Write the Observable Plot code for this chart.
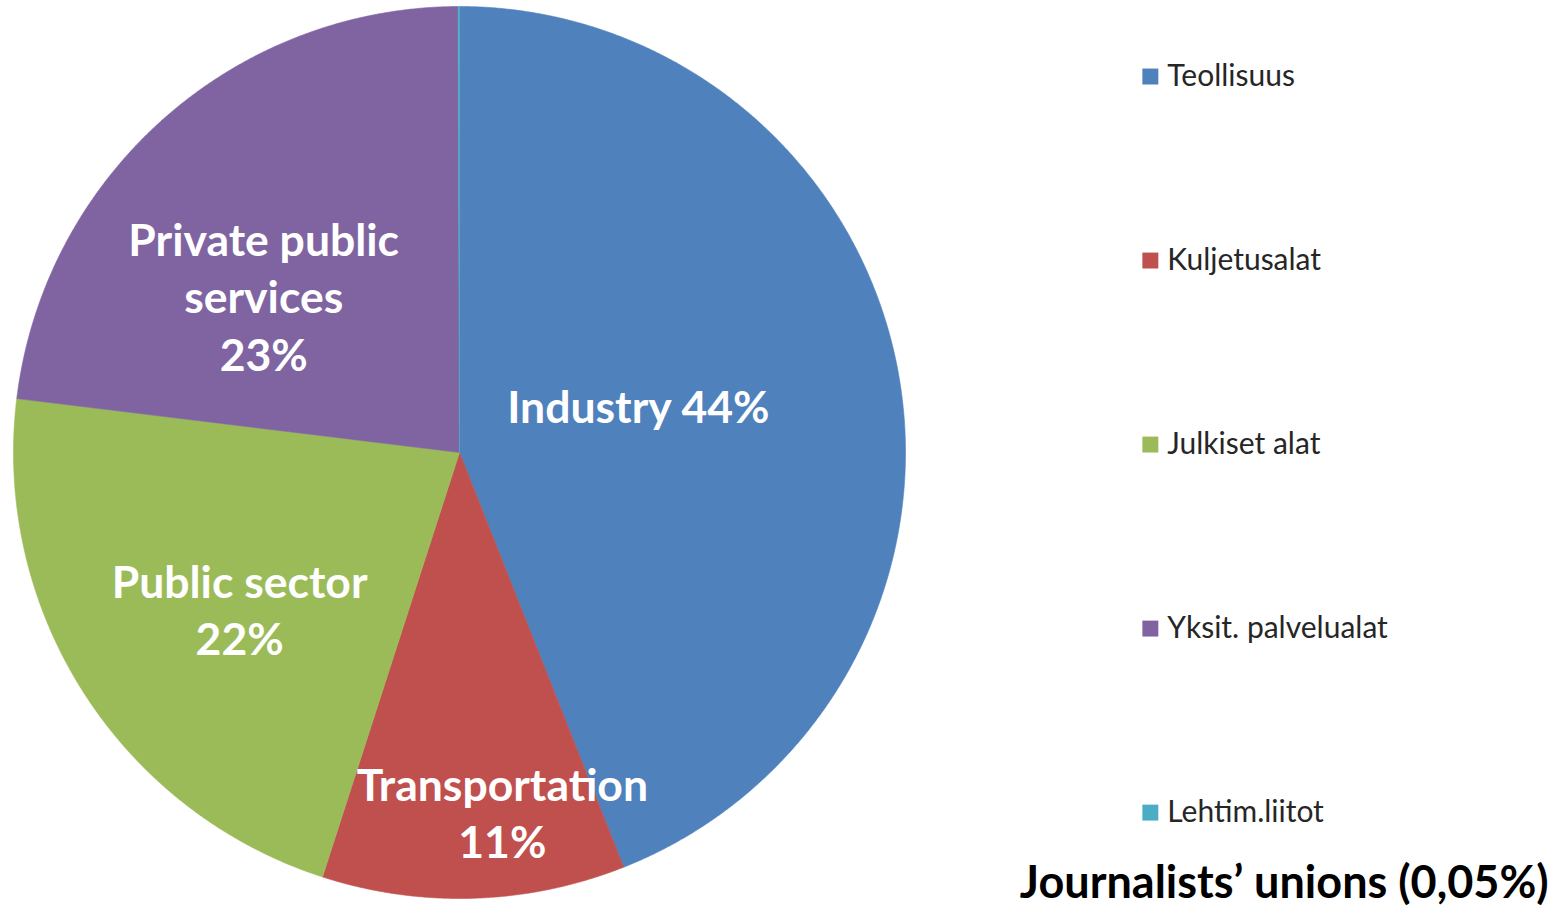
<!DOCTYPE html>
<html><head><meta charset="utf-8">
<script src="https://cdn.jsdelivr.net/npm/d3@7"></script>
<script src="https://cdn.jsdelivr.net/npm/@observablehq/plot@0.6"></script>
<style>body{margin:0;background:#fff;overflow:hidden}</style>
</head><body><div id="chart"></div>
<script>
// ---- data ----
const categories = ["Teollisuus", "Kuljetusalat", "Julkiset alat", "Yksit. palvelualat", "Lehtim.liitot"];
const sliceLabels = ["Industry 44%", "Transportation\n11%", "Public sector\n22%", "Private public\nservices\n23%", ""];
const shares = [44.0, 10.97, 21.96, 23.02, 0.05];
const colors = ["#4F81BD", "#C0504D", "#9BBB59", "#8064A2", "#4BACC6"];
const footnote = "Journalists’ unions (0,05%)";

// ---- layout config (not data) ----
const labelAnchors = [[0.401, 0.107], [0.096, -0.804], [-0.493, -0.349], [-0.439, 0.353], [0, 0]];
const legendX = 1.549, legendTextX = 1.587, legendTop = 0.843, legendStep = 0.4126;
const labelSize = 44.5;

// ---- geometry via d3.pie (angles clockwise from top) ----
const arcs = d3.pie().sort(null).value(d => d)(shares);
const polys = [];
arcs.forEach((a, i) => {
  const n = Math.max(2, Math.ceil((a.endAngle - a.startAngle) / (Math.PI / 720)));
  polys.push({cat: categories[i], x: 0, y: 0});
  for (let j = 0; j <= n; j++) {
    const t = a.startAngle + (a.endAngle - a.startAngle) * j / n;
    polys.push({cat: categories[i], x: Math.sin(t), y: Math.cos(t)});
  }
  polys.push({cat: categories[i], x: 0, y: 0});
});

const labelData = categories.map((c, i) => ({cat: c, text: sliceLabels[i], x: labelAnchors[i][0], y: labelAnchors[i][1]})).filter(d => d.text);
const legendData = categories.map((c, i) => ({cat: c, y: legendTop - i * legendStep}));

const chart = Plot.plot({
  width: 1553, height: 906,
  marginLeft: 13, marginRight: 648, marginTop: 6, marginBottom: 8,
  x: {domain: [-1, 1], axis: null},
  y: {domain: [-1, 1], axis: null},
  color: {domain: categories, range: colors},
  style: {fontFamily: "Lato", background: "#fff"},
  marks: [
    Plot.line(polys, {x: "x", y: "y", z: "cat", fill: "cat", stroke: "cat", strokeWidth: 0.6, curve: "linear"}),
    Plot.text(labelData, {x: "x", y: "y", text: "text", fill: "white", fontSize: labelSize, fontWeight: "bold", lineHeight: 57.5 / labelSize, lineAnchor: "middle", fontFamily: "Lato"}),
    Plot.dot(legendData, {x: () => legendX, y: "y", fill: "cat", symbol: "square", r: 9, stroke: null}),
    Plot.text(legendData, {x: () => legendTextX, y: "y", text: "cat", textAnchor: "start", fill: "#262626", fontSize: 30, fontFamily: "Lato", lineAnchor: "middle"}),
    Plot.text([footnote], {x: () => 2.442, y: () => -1.0, text: d => d, textAnchor: "end", lineAnchor: "bottom", fill: "black", fontSize: 45, fontWeight: "bold", fontFamily: "Lato", dy: -1})
  ]
});
document.getElementById("chart").append(chart);
</script>
</body></html>
